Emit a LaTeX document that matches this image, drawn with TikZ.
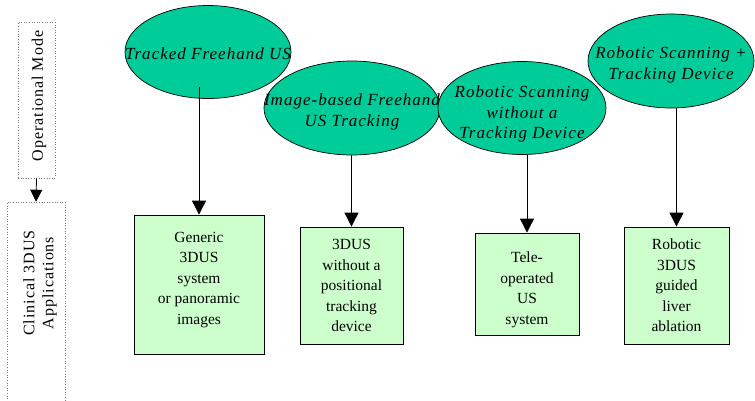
\documentclass[tikz,border=0pt]{standalone}
\usepackage{fontspec}
\setmainfont{Liberation Serif}
\newfontfamily\wideserif[LetterSpace=6]{Liberation Serif}
\usetikzlibrary{arrows.meta,shapes.geometric}

\definecolor{ovalgreen}{RGB}{0,204,153}
\definecolor{boxgreen}{RGB}{204,255,204}
\definecolor{framegray}{RGB}{120,120,120}

\tikzset{
  sidebox/.style={draw=framegray, dotted, line width=0.6pt, inner sep=0pt},
  sidetext/.style={rotate=90, align=center, inner sep=0pt,
    font=\wideserif\fontsize{16}{19}\selectfont},
  oval/.style={ellipse, draw=black, line width=0.7pt, fill=ovalgreen, inner sep=0pt},
  ovaltext/.style={align=center, inner sep=0pt,
    font=\wideserif\itshape\fontsize{17}{20.5}\selectfont},
  boxtext/.style={align=center, inner sep=0pt, font=\fontsize{15.5}{20.5}\selectfont},
  appbox/.style={draw=black, line width=0.8pt, fill=boxgreen, inner sep=0pt, boxtext},
  arrow/.style={line width=0.8pt, -{Triangle[width=14pt,length=14pt]}},
  smallarrow/.style={line width=0.8pt, -{Triangle[width=12pt,length=12pt]}}
}

\begin{document}
\begin{tikzpicture}[x=1pt,y=-1pt]
\useasboundingbox (0,0) rectangle (755,400);

% left-hand legend
\node[sidebox, minimum width=37pt, minimum height=156pt] (op) at (36.5,100) {};
\node[sidetext] (optext) at (39,96) {Operational Mode};
\node[sidebox, minimum width=58pt, minimum height=200pt] (cl) at (36,302) {};
\node[sidetext] (cltext) at (40,283) {Clinical 3DUS\\Applications};
\draw[smallarrow] (op.south) -- (cl.north);

% operational modes
\node[oval, minimum width=166pt, minimum height=93pt] (e1) at (208,52) {};
\node[ovaltext] (t1) at (208,54) {Tracked Freehand US};
\node[oval, minimum width=176pt, minimum height=94pt] (e2) at (352,108) {};
\node[ovaltext] (t2) at (352,112) {Image-based Freehand\\US Tracking};
\node[oval, minimum width=168pt, minimum height=93pt] (e3) at (522,108) {};
\node[ovaltext] (t3) at (522,114) {Robotic Scanning\\without a\\Tracking Device};
\node[oval, minimum width=166pt, minimum height=94pt] (e4) at (671,61) {};
\node[ovaltext] (t4) at (671,65) {Robotic Scanning +\\Tracking Device};

% clinical applications
\node[appbox, minimum width=130pt, minimum height=139pt] (b1) at (199,284.5) {};
\node[boxtext] (b1text) at (199,280)
  {Generic\\3DUS\\system\\or panoramic\\images};
\node[appbox, minimum width=103pt, minimum height=117pt] (b2) at (351.5,285.5)
  {3DUS\\without a\\positional\\tracking\\device};
\node[appbox, minimum width=104pt, minimum height=102pt] (b3) at (527,284) {};
\node[boxtext] (b3text) at (527,290) {Tele-\\operated\\US\\system};
\node[appbox, minimum width=105pt, minimum height=117pt] (b4) at (676.5,285.5)
  {Robotic\\3DUS\\guided\\liver\\ablation};

% connectors
\coordinate (s1) at (199,87);
\draw[arrow] (s1) -- (b1.north);
\draw[arrow] (b2.north |- e2.south) -- (b2.north);
\draw[arrow] (b3.north |- e3.south) -- (b3.north);
\draw[arrow] (b4.north |- e4.south) -- (b4.north);
\end{tikzpicture}
\end{document}
